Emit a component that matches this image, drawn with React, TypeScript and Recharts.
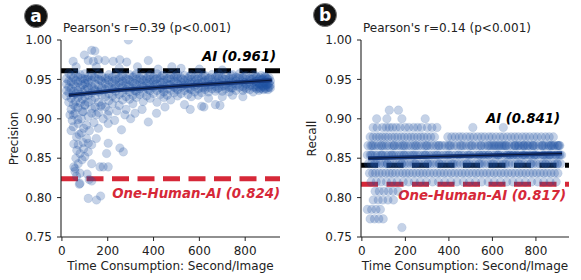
import { ReferenceLine, Scatter, ScatterChart, XAxis, YAxis } from "recharts";

const xTicks = [0, 200, 400, 600, 800];
const yTicks = [0.75, 0.8, 0.85, 0.9, 0.95, 1.0];

// panel a: columns of [seconds, precision values]
const precisionCols: [number, number[]][] = [
    [20, [.951, .944, .936, .929]],
    [30, [.958, .948, .940, .933, .921]],
    [40, [.955, .947, .938, .926, .912]],
    [50, [.952, .944, .935, .930, .918, .905]],
    [60, [.957, .949, .941, .932, .922]],
    [70, [.953, .946, .936, .927, .914, .899]],
    [80, [.956, .948, .940, .931, .920]],
    [90, [.951, .943, .934, .925, .909]],
    [100, [.957, .950, .945, .937, .928, .917]],
    [110, [.950, .940]],
    [115, [.953, .946, .939, .930, .921, .903]],
    [130, [.955, .949, .941, .933, .924, .913]],
    [140, [.953, .938]],
    [145, [.952, .944, .936, .927, .915]],
    [160, [.957, .950, .942, .934, .921, .908]],
    [170, [.949, .936]],
    [175, [.954, .947, .939, .930, .918]],
    [190, [.951, .945, .937, .928, .915]],
    [200, [.952, .940]],
    [205, [.956, .949, .941, .932, .923, .910]],
    [220, [.953, .946, .938, .929, .919]],
    [228, [.948, .938]],
    [235, [.957, .950, .943, .935, .926]],
    [250, [.952, .946, .939, .931, .917]],
    [258, [.954, .944]],
    [265, [.955, .948, .941, .933, .924]],
    [280, [.951, .945, .937, .928, .912]],
    [288, [.950, .940]],
    [295, [.956, .949, .942, .934, .925]],
    [310, [.953, .946, .939, .930, .919]],
    [318, [.955, .945, .936]],
    [325, [.957, .950, .943, .935, .927]],
    [340, [.952, .946, .938, .931]],
    [348, [.950, .942]],
    [355, [.955, .949, .941, .933, .922]],
    [370, [.951, .945, .939, .929]],
    [378, [.954, .946, .937]],
    [385, [.956, .950, .943, .936, .926]],
    [400, [.953, .947, .940, .932]],
    [408, [.950, .943]],
    [415, [.957, .951, .944, .936, .921]],
    [430, [.952, .946, .939, .931]],
    [438, [.955, .946, .938]],
    [445, [.955, .949, .942, .934, .927]],
    [460, [.951, .945, .938, .930]],
    [468, [.952, .943]],
    [475, [.956, .950, .943, .936, .924]],
    [490, [.953, .947, .940, .933]],
    [498, [.955, .947, .939]],
    [505, [.957, .951, .944, .937, .929]],
    [520, [.952, .946, .940, .932]],
    [528, [.950, .942]],
    [535, [.955, .949, .943, .936, .918]],
    [550, [.951, .945, .939, .931]],
    [558, [.954, .946, .938]],
    [565, [.956, .950, .944, .937, .928]],
    [580, [.953, .947, .941, .934]],
    [588, [.950, .943]],
    [595, [.957, .951, .945, .938, .930]],
    [610, [.952, .946, .940, .933, .916]],
    [618, [.955, .947, .939]],
    [625, [.955, .949, .943, .937]],
    [640, [.951, .946, .940, .934, .926]],
    [648, [.952, .943]],
    [655, [.956, .950, .944, .938]],
    [670, [.953, .947, .941, .935, .918]],
    [678, [.954, .946, .938]],
    [685, [.957, .951, .945, .939]],
    [700, [.952, .947, .941, .935, .928]],
    [708, [.950, .942]],
    [715, [.955, .950, .944, .938]],
    [730, [.951, .946, .940, .934]],
    [738, [.955, .947, .939]],
    [745, [.956, .951, .945, .939, .930]],
    [760, [.953, .948, .942, .936]],
    [768, [.952, .944]],
    [775, [.957, .951, .946, .940]],
    [790, [.952, .947, .941, .936, .928]],
    [798, [.954, .946, .939]],
    [805, [.955, .950, .944, .938]],
    [820, [.951, .947, .942, .937]],
    [828, [.950, .943]],
    [835, [.956, .951, .946, .940, .934]],
    [845, [.955, .947, .940]],
    [850, [.953, .948, .943, .938]],
    [860, [.950, .945, .940, .936]],
    [865, [.952, .944, .938]],
    [870, [.955, .949, .944, .939]],
    [875, [.950, .942]],
    [880, [.951, .946, .941, .937]],
    [885, [.954, .946, .939]],
    [890, [.953, .948, .943, .938]],
    [895, [.951, .943]],
    [900, [.950, .945, .940, .937]],
    [905, [.952, .945, .940]],
    [910, [.948, .943, .939]],
];

// panel a: the scattered points outside the band
const precisionSparse: [number, number][] = [
    [49, .973], [115, .974], [137, .973], [159, .975], [188, .974], [224, .973], [253, .975],
    [283, .972], [377, .974], [130, .987], [144, .986], [98, .981], [290, 1.0], [62, .966],
    [150, .966], [250, .964], [330, .966], [420, .963], [480, .966], [520, .964], [600, .963],
    [700, .962], [560, .912], [620, .915], [690, .917], [450, .915],
    [57, .907], [93, .909], [130, .907], [71, .894], [108, .892], [159, .888], [202, .894],
    [260, .886], [275, .905], [319, .907], [377, .896], [413, .907], [64, .877], [108, .875],
    [130, .867], [79, .856], [115, .858], [195, .856], [253, .863], [268, .858], [202, .869],
    [71, .843], [130, .843], [180, .839], [57, .837], [79, .831], [79, .818], [52, .868],
    [71, .867], [93, .870], [115, .869], [61, .850], [166, .839], [202, .839], [52, .839],
    [76, .817], [119, .823], [130, .821], [115, .799], [151, .797], [169, .802], [40, .885],
    [45, .898], [85, .882], [95, .862], [140, .895], [180, .900], [230, .898], [65, .860],
    [88, .848], [120, .885], [150, .875], [240, .910], [300, .900], [350, .912], [60, .915],
    [100, .918], [170, .916], [110, .830], [100, .852], [57, .833], [64, .827], [35, .905],
    [85, .900], [150, .905], [200, .905], [95, .888], [75, .880], [50, .890],
];

const precisionFit: [number, number][] = [[30, .930], [250, .9365], [480, .941], [916, .949]];

// panel b: recall comes in discrete levels, [level, seconds]
const recallRows: [number, number[]][] = [
    [.911, [126, 168]],
    [.900, [68, 115, 184, 291]],
    [.889, [52, 70, 95, 112, 126, 141, 158, 176, 199, 216, 238, 256, 274, 301, 322, 345, 510, 650]],
    [.877, [38, 52, 67, 80, 94, 108, 121, 137, 151, 165, 181, 195, 211, 226, 240, 256, 271, 285, 301, 317, 334, 395, 413, 429, 447, 462, 481, 497, 514, 532, 549, 565, 584, 599, 617, 635, 651, 669, 686, 703, 719, 738, 754, 771, 790, 806, 825, 844, 861, 880]],
    [.866, [28, 41, 53, 64, 77, 88, 102, 114, 124, 139, 150, 163, 175, 186, 199, 212, 224, 237, 251, 262, 275, 289, 301, 314, 328, 341, 356, 368, 383, 397, 409, 424, 437, 452, 466, 479, 494, 507, 521, 536, 549, 563, 577, 590, 606, 619, 633, 648, 661, 676, 689, 703, 718, 731, 745, 760, 773, 787, 801, 815, 829, 843, 857, 871, 885, 898, 910, 612, 655, 702, 748, 790, 835, 870, 902]],
    [.866, [47, 93, 147, 192, 246, 297, 352, 403, 458, 503, 547, 583, 627, 664, 707, 741, 784, 828, 862, 906, 598, 641, 722, 763, 879]],
    [.854, [25, 38, 49, 62, 72, 86, 96, 110, 121, 134, 146, 157, 171, 181, 195, 206, 220, 231, 245, 257, 268, 283, 294, 308, 320, 333, 348, 360, 375, 387, 402, 414, 430, 442, 458, 470, 486, 498, 514, 526, 542, 554, 570, 582, 598, 610, 626, 638, 654, 666, 682, 694, 710, 722, 738, 750, 766, 778, 794, 806, 822, 834, 850, 862, 878, 890, 906, 918, 560, 620, 680, 740, 800, 860, 895]],
    [.854, [43, 91, 138, 193, 238, 291, 343, 397, 446, 493, 538, 583, 628, 671, 713, 748, 792, 833, 868, 911, 697, 772, 841]],
    [.843, [30, 44, 57, 68, 82, 93, 107, 118, 131, 146, 157, 171, 183, 197, 208, 223, 236, 248, 263, 274, 288, 302, 315, 327, 342, 355, 370, 384, 396, 411, 425, 438, 453, 467, 481, 494, 509, 522, 537, 551, 564, 579, 593, 607, 621, 634, 649, 663, 676, 691, 705, 719, 732, 747, 761, 775, 788, 803, 817, 831, 845, 858, 873, 887, 900, 914]],
    [.843, [62, 117, 183, 244, 303, 357, 418, 483, 542, 601, 657, 724, 778, 843, 897]],
    [.831, [35, 50, 63, 79, 94, 110, 126, 140, 155, 172, 188, 203, 218, 234, 250, 266, 281, 297, 313, 330, 346, 362, 378, 394, 411, 427, 444, 460, 476, 492, 509, 525, 541, 558, 574, 590, 607, 623, 640, 656, 672, 689, 705, 722, 738, 754, 771, 787, 803, 820, 836, 852, 869, 885, 901]],
    [.820, [42, 66, 88, 113, 137, 162, 190, 214, 241, 268, 296, 325, 352, 381, 409, 437, 466, 494, 522, 551, 580, 608, 637, 666, 694, 722, 751, 780, 808, 836, 865, 893]],
    [.808, [61, 80, 101, 122, 143, 166]],
    [.797, [52, 75, 96, 120, 145]],
    [.785, [25, 45, 65, 85]],
    [.773, [38, 58, 78, 98]],
    [.762, [184]],
];

const recallFit: [number, number][] = [[29, .850], [920, .856]];

const precisionAI = 0.961;
const precisionOneHuman = 0.824;
const recallAI = 0.841;
const recallOneHuman = 0.817;

const precisionData = [
    ...precisionCols.flatMap(([x, ys]) => ys.map(y => ({ x, y }))),
    ...precisionSparse.map(([x, y]) => ({ x, y })),
];
const recallData = recallRows.flatMap(([y, xs]) => xs.map(x => ({ x, y })));

const FONT = "DejaVu Sans";
const BLUE = "#1f50a2";
const RED = "#d62838";

const Dot = (p: any) => (
    <circle cx={p.cx} cy={p.cy} r={4.3} fill={BLUE} fillOpacity={0.26}
        stroke={BLUE} strokeOpacity={0.12} strokeWidth={0.8} />
);

const lineLabel = (text: string, color: string, dx: number, dy: number) => (props: any) => {
    const vb = props.viewBox || {};
    const right = vb.width !== undefined ? vb.x + vb.width : (vb.x2 ?? vb.x ?? 0);
    const y = vb.y ?? vb.y1 ?? 0;
    return (
        <text x={right + dx} y={y + dy} textAnchor="end" fill={color}
            fontSize={13.3} fontWeight="bold" fontStyle="italic" fontFamily={FONT}>
            {text}
        </text>
    );
};

const Panel: React.FunctionComponent<{
    width: number, left: number, right: number,
    data: { x: number, y: number }[], fit: [number, number][],
    ai: number, human: number,
    aiLabel: [number, number], humanLabel: [number, number],
}> = ({ width, left, right, data, fit, ai, human, aiLabel, humanLabel }) => {
    const fitData = fit.map(([x, y]) => ({ x, y }));
    return (
        <ScatterChart width={width} height={280} margin={{ top: 40, right, bottom: 13, left }}>
            <XAxis type="number" dataKey="x" domain={[-4, 952]} ticks={xTicks} allowDataOverflow
                tick={{ fill: "#222", fontSize: 12, fontFamily: FONT }} tickSize={4} tickMargin={5}
                tickLine={{ stroke: "#222" }} axisLine={{ stroke: "#222", strokeWidth: 1.1 }} height={30} />
            <YAxis type="number" dataKey="y" domain={[0.75, 1.0]} ticks={yTicks} allowDataOverflow
                tickFormatter={(v: number) => v.toFixed(2)}
                tick={{ fill: "#222", fontSize: 12, fontFamily: FONT }} tickSize={4} tickMargin={5}
                tickLine={{ stroke: "#222" }} axisLine={{ stroke: "#222", strokeWidth: 1.1 }} width={40} />
            <Scatter data={data} shape={Dot} isAnimationActive={false} />
            <Scatter data={fitData} line={{ stroke: "#17397e", strokeWidth: 4 }} lineType="joint"
                shape={() => <g />} isAnimationActive={false} />
            <Scatter data={fitData} line={{ stroke: "#0a1633", strokeWidth: 1 }} lineType="joint"
                shape={() => <g />} isAnimationActive={false} />
            <ReferenceLine y={ai} stroke="#000" strokeWidth={5} strokeDasharray="17 8.5"
                label={lineLabel(`AI (${ai.toFixed(3)})`, "#000", aiLabel[0], aiLabel[1])} />
            <ReferenceLine y={human} stroke={RED} strokeWidth={5} strokeDasharray="17 8.5"
                label={lineLabel(`One-Human-AI (${human.toFixed(3)})`, RED, humanLabel[0], humanLabel[1])} />
        </ScatterChart>
    );
};

const Badge = ({ cx, cy, letter }: { cx: number, cy: number, letter: string }) => (
    <g>
        <circle cx={cx} cy={cy} r={11.5} fill="#111" stroke="#777" strokeWidth={1} />
        <text x={cx} y={cy + 5.5} textAnchor="middle" fill="#fff" fontSize={17} fontWeight="bold" fontFamily={FONT}>{letter}</text>
    </g>
);

export default function App() {
    const txt = { fontFamily: FONT, fontSize: 12, fill: "#222" };
    return (
        <div style={{ position: "absolute", left: 0, top: 0, width: 581, height: 280, background: "#fff" }}>
            <div style={{ position: "absolute", left: 0, top: 0 }}>
                <Panel width={290} left={21} right={10} data={precisionData} fit={precisionFit}
                    ai={precisionAI} human={precisionOneHuman} aiLabel={[-4, -9.7]} humanLabel={[0, 19]} />
            </div>
            <div style={{ position: "absolute", left: 290, top: 0 }}>
                <Panel width={291} left={31} right={12} data={recallData} fit={recallFit}
                    ai={recallAI} human={recallOneHuman} aiLabel={[-9, -42]} humanLabel={[-3, 16]} />
            </div>
            <svg width={581} height={280} style={{ position: "absolute", left: 0, top: 0, pointerEvents: "none" }}>
                <Badge cx={36} cy={16} letter="a" />
                <Badge cx={325} cy={15} letter="b" />
                <text x={63} y={32} {...txt}>Pearson's r=0.39 (p&lt;0.001)</text>
                <text x={363} y={32} {...txt}>Pearson's r=0.14 (p&lt;0.001)</text>
                <text x={170.5} y={270} textAnchor="middle" {...txt}>Time Consumption: Second/Image</text>
                <text x={465} y={270} textAnchor="middle" {...txt}>Time Consumption: Second/Image</text>
                <text transform="translate(18,138.5) rotate(-90)" textAnchor="middle" {...txt}>Precision</text>
                <text transform="translate(316,138.5) rotate(-90)" textAnchor="middle" {...txt}>Recall</text>
            </svg>
        </div>
    );
}
